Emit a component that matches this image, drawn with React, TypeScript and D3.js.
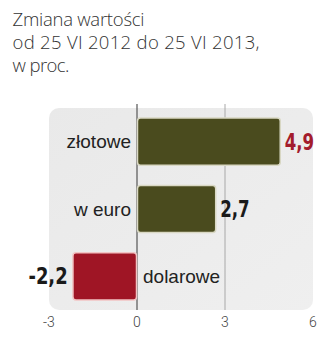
import React from "react";
import * as d3 from "d3";

const categories = ["złotowe", "w euro", "dolarowe"];
const values = [4.9, 2.7, -2.2];
const valueLabels = ["4,9", "2,7", "-2,2"];
const ticks = [-3, 0, 3, 6];
const titleLines = ["Zmiana wartości", "od 25 VI 2012 do 25 VI 2013,", "w proc."];
const titleWidths = [132, 247, 57];

const W = 327;
const H = 340;

export default function App() {
  const x = d3.scaleLinear().domain([-3, 6]).range([49, 313]);
  const y = d3
    .scaleBand<string>()
    .domain(categories)
    .range([108, 310])
    .paddingInner(0.3)
    .paddingOuter(0.15);
  const x0 = x(0);
  const numFont = "'Liberation Sans Narrow', 'DejaVu Sans Condensed', 'DejaVu Sans', sans-serif";
  const labFont = "'Liberation Sans', Arial, sans-serif";
  return (
    <svg
      width={W}
      height={H}
      viewBox={`0 0 ${W} ${H}`}
      style={{ position: "absolute", left: 0, top: 0, background: "#fff" }}
    >
      <defs>
        <linearGradient id="pg" x1="0" y1="0" x2="1" y2="1">
          <stop offset="0" stopColor="#e9e9e9" />
          <stop offset="1" stopColor="#efefef" />
        </linearGradient>
      </defs>
      {titleLines.map((t, i) => (
        <text
          key={i}
          x={12.5}
          y={26 + i * 23}
          fontFamily="'Open Sans', sans-serif"
          fontWeight={300}
          fontSize={18.5}
          textLength={titleWidths[i]}
          lengthAdjust="spacing"
          fill="#333"
        >
          {t}
        </text>
      ))}
      <rect x={x(-3)} y={108} width={x(6) - x(-3)} height={202} rx={10} fill="url(#pg)" />
      {ticks
        .filter((t) => t === 3)
        .map((t) => (
          <line key={t} x1={x(t)} x2={x(t)} y1={104} y2={310} stroke="#a8a8a8" strokeWidth={1} />
        ))}
      <line x1={x0} x2={x0} y1={104} y2={310} stroke="#555" strokeWidth={1.2} />
      {categories.map((c, i) => {
        const v = values[i];
        const bx = Math.min(x(v), x0);
        const bw = Math.abs(x(v) - x0);
        const by = y(c)!;
        const bh = y.bandwidth();
        const cy = by + bh / 2;
        const pos = v >= 0;
        const fill = pos ? "#4a4b1e" : "#9f1525";
        const stroke = pos ? "#d9d8c4" : "#f2c4c4";
        const lab = valueLabels[i];
        return (
          <g key={c}>
            <rect x={bx + 0.5} y={by} width={bw - 1} height={bh} rx={3} fill={fill} stroke={stroke} strokeWidth={1.5} />
            <text
              x={pos ? x0 - 6 : x0 + 6}
              y={cy}
              dy="0.35em"
              textAnchor={pos ? "end" : "start"}
              fontFamily={labFont}
              fontSize={19}
              fill="#222"
            >
              {c}
            </text>
            <text
              x={pos ? x(v) + 4 : x(v) - 6 - lab.length * 9.5}
              y={cy}
              dy="0.36em"
              textAnchor="start"
              fontFamily={numFont}
              fontWeight="bold"
              fontSize={22.5}
              textLength={lab.length * 9.8}
              lengthAdjust="spacingAndGlyphs"
              fill={i === 0 ? "#a31c2c" : "#1a1a1a"}
            >
              {lab}
            </text>
          </g>
        );
      })}
      {ticks.map((t) => (
        <text
          key={t}
          x={x(t)}
          y={322}
          dy="0.35em"
          textAnchor="middle"
          fontFamily="Roboto, sans-serif"
          fontWeight={300}
          fontSize={14}
          fill="#444"
        >
          {t}
        </text>
      ))}
    </svg>
  );
}
